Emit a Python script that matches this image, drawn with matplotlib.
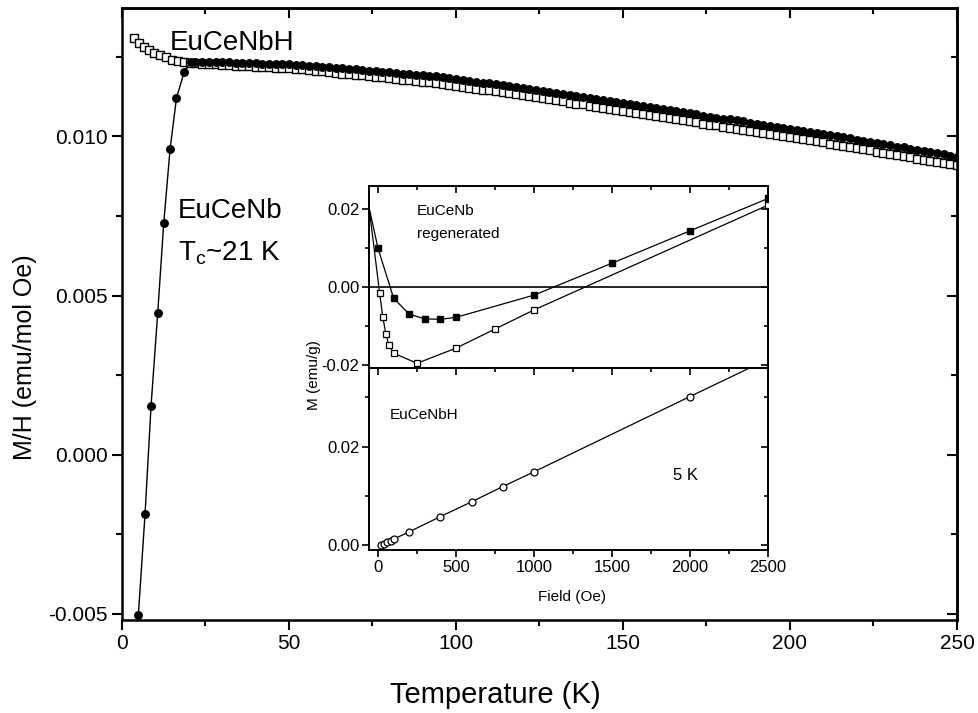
import numpy as np
import matplotlib
matplotlib.use("Agg")
import matplotlib.pyplot as plt
from matplotlib.ticker import MultipleLocator, FormatStrFormatter, NullFormatter

plt.rcParams['font.family'] = ['Liberation Sans', 'DejaVu Sans']
plt.rcParams['axes.unicode_minus'] = False
plt.rcParams['mathtext.fontset'] = 'custom'
plt.rcParams['mathtext.rm'] = 'Liberation Sans'

# ---- main panel: M/H vs T ----
# EuCeNbH (open squares)
t_nbh = [3.6, 5.1, 6.6, 8.1, 9.6, 11.3, 13.1, 14.9, 16.8, 18.6, 20.5,
         22, 24, 26, 28, 30, 32, 34, 36, 38, 40, 42, 44, 46, 48, 50,
         52, 54, 56, 58, 60, 62, 64, 66, 68, 70, 72, 74, 76, 78, 80,
         82, 84, 86, 88, 90, 92, 94, 96, 98, 100, 102, 104, 106, 108, 110,
         112, 114, 116, 118, 120, 122, 124, 126, 128, 130, 132, 134, 136, 138, 140,
         142, 144, 146, 148, 150, 152, 154, 156, 158, 160, 162, 164, 166, 168, 170,
         172, 174, 176, 178, 180, 182, 184, 186, 188, 190, 192, 194, 196, 198, 200,
         202, 204, 206, 208, 210, 212, 214, 216, 218, 220, 222, 224, 226, 228, 230,
         232, 234, 236, 238, 240, 242, 244, 246, 248, 250]
mh_nbh = [0.01308, 0.01293, 0.01281, 0.01270, 0.01262, 0.01255, 0.01250, 0.01241, 0.01237, 0.01234, 0.01231,
          0.01229, 0.01228, 0.01227, 0.01226, 0.01225, 0.01224, 0.01222, 0.01221, 0.01220, 0.01219,
          0.01218, 0.01217, 0.01216, 0.01215, 0.01214,
          0.01212, 0.01210, 0.01208, 0.01206, 0.01204, 0.01202, 0.01199, 0.01197, 0.01195, 0.01193,
          0.01191, 0.01189, 0.01187, 0.01185, 0.01183,
          0.01181, 0.01178, 0.01176, 0.01174, 0.01172, 0.01170, 0.01168, 0.01165, 0.01162, 0.01159,
          0.01156, 0.01153, 0.01150, 0.01147, 0.01144,
          0.01141, 0.01138, 0.01135, 0.01132, 0.01129, 0.01126, 0.01123, 0.01120, 0.01116, 0.01113,
          0.01110, 0.01106, 0.01103, 0.01100, 0.01096,
          0.01093, 0.01090, 0.01087, 0.01083, 0.01080, 0.01077, 0.01073, 0.01070, 0.01067, 0.01063,
          0.01060, 0.01057, 0.01054, 0.01050, 0.01047,
          0.01044, 0.01040, 0.01037, 0.01034, 0.01030, 0.01027, 0.01024, 0.01021, 0.01017, 0.01014,
          0.01011, 0.01007, 0.01004, 0.01001, 0.00997,
          0.00994, 0.00991, 0.00988, 0.00984, 0.00981, 0.00977, 0.00974, 0.00970, 0.00967, 0.00963,
          0.00959, 0.00956, 0.00952, 0.00948, 0.00945,
          0.00941, 0.00938, 0.00934, 0.00930, 0.00927, 0.00923, 0.00920, 0.00916, 0.00912, 0.00909]

# EuCeNb (filled circles)
t_nb = [4.9, 6.9, 8.7, 10.7, 12.5, 14.4, 16.3, 18.6, 20.6,
        22, 24, 26, 28, 30, 32, 34, 36, 38, 40, 42, 44, 46, 48, 50,
        52, 54, 56, 58, 60, 62, 64, 66, 68, 70, 72, 74, 76, 78, 80,
        82, 84, 86, 88, 90, 92, 94, 96, 98, 100, 102, 104, 106, 108, 110,
        112, 114, 116, 118, 120, 122, 124, 126, 128, 130, 132, 134, 136, 138, 140,
        142, 144, 146, 148, 150, 152, 154, 156, 158, 160, 162, 164, 166, 168, 170,
        172, 174, 176, 178, 180, 182, 184, 186, 188, 190, 192, 194, 196, 198, 200,
        202, 204, 206, 208, 210, 212, 214, 216, 218, 220, 222, 224, 226, 228, 230,
        232, 234, 236, 238, 240, 242, 244, 246, 248, 250]
mh_nb = [-0.00503, -0.00187, 0.00153, 0.00446, 0.00727, 0.00960, 0.01119, 0.01202, 0.01234,
         0.01232, 0.01232, 0.01232, 0.01232, 0.01232, 0.01232, 0.01230, 0.01230, 0.01229, 0.01229,
         0.01228, 0.01228, 0.01228, 0.01227, 0.01227,
         0.01225, 0.01223, 0.01222, 0.01220, 0.01219, 0.01217, 0.01214, 0.01213, 0.01211, 0.01210,
         0.01208, 0.01206, 0.01205, 0.01203, 0.01201,
         0.01199, 0.01197, 0.01195, 0.01193, 0.01192, 0.01190, 0.01188, 0.01185, 0.01182, 0.01180,
         0.01177, 0.01174, 0.01171, 0.01168, 0.01166,
         0.01163, 0.01160, 0.01157, 0.01154, 0.01152, 0.01149, 0.01146, 0.01143, 0.01139, 0.01136,
         0.01133, 0.01130, 0.01127, 0.01124, 0.01120,
         0.01117, 0.01114, 0.01111, 0.01107, 0.01104, 0.01101, 0.01098, 0.01095, 0.01092, 0.01088,
         0.01085, 0.01082, 0.01079, 0.01075, 0.01072,
         0.01069, 0.01065, 0.01062, 0.01059, 0.01055, 0.01053, 0.01050, 0.01047, 0.01043, 0.01040,
         0.01037, 0.01033, 0.01030, 0.01027, 0.01023,
         0.01020, 0.01017, 0.01014, 0.01010, 0.01007, 0.01004, 0.01001, 0.00997, 0.00994, 0.00990,
         0.00986, 0.00983, 0.00979, 0.00975, 0.00972,
         0.00968, 0.00965, 0.00961, 0.00957, 0.00954, 0.00950, 0.00947, 0.00943, 0.00939, 0.00936]

# ---- inset: M vs field at 5 K ----
# EuCeNb regenerated, filled squares (first point sits on the left edge)
h_nb_fill = [-58, 0, 100, 200, 300, 400, 500, 1000, 1500, 2000, 2500]
m_nb_fill = [0.0205, 0.0099, -0.0029, -0.0070, -0.0082, -0.0083, -0.0078, -0.0021, 0.0061, 0.0144, 0.0227]
# EuCeNb regenerated, open squares
h_nb_open = [-58, 10, 30, 50, 70, 100, 250, 500, 750, 1000, 2500]
m_nb_open = [0.0205, -0.0015, -0.0076, -0.0121, -0.0150, -0.0170, -0.0196, -0.0157, -0.0108, -0.0059, 0.0210]
# EuCeNbH, open circles
h_nbh = [20, 40, 60, 80, 100, 200, 400, 600, 800, 1000, 2000, 2500]
m_nbh = [0.0000, 0.0003, 0.0006, 0.0009, 0.0012, 0.0027, 0.0058, 0.0088, 0.0119, 0.0149, 0.0302, 0.0378]


def mirror_ticks(a, xmaj, xmin, ymaj, ymin, top=True, right=True, length=(7, 4), width=1.5):
    # top / right ticks point inward, without labels
    if top:
        sx = a.secondary_xaxis('top')
        sx.xaxis.set_major_locator(MultipleLocator(xmaj))
        sx.xaxis.set_minor_locator(MultipleLocator(xmin))
        sx.xaxis.set_major_formatter(NullFormatter())
        sx.tick_params(which='both', direction='in', width=width)
        sx.tick_params(which='major', length=length[0])
        sx.tick_params(which='minor', length=length[1])
        sx.spines['top'].set_linewidth(a.spines['top'].get_linewidth())
    if right:
        sy = a.secondary_yaxis('right')
        sy.yaxis.set_major_locator(MultipleLocator(ymaj))
        sy.yaxis.set_minor_locator(MultipleLocator(ymin))
        sy.yaxis.set_major_formatter(NullFormatter())
        sy.tick_params(which='both', direction='in', width=width)
        sy.tick_params(which='major', length=length[0])
        sy.tick_params(which='minor', length=length[1])
        sy.spines['right'].set_linewidth(a.spines['right'].get_linewidth())


fig = plt.figure(figsize=(9.79, 7.13), dpi=100)

ax = fig.add_axes([0.1246, 0.1304, 0.8529, 0.8584])
ax.plot(t_nbh, mh_nbh, ls='none', marker='s', ms=5.8, mfc='white', mec='black', mew=1.0, zorder=2)
ax.plot(t_nb, mh_nb, '-', color='black', lw=1.0, marker='o', ms=5.4, mfc='black', mec='black', zorder=3)
ax.set_xlim(0, 250)
ax.set_ylim(-0.00519, 0.01403)
ax.xaxis.set_major_locator(MultipleLocator(50))
ax.xaxis.set_minor_locator(MultipleLocator(25))
ax.yaxis.set_major_locator(MultipleLocator(0.005))
ax.yaxis.set_minor_locator(MultipleLocator(0.0025))
ax.yaxis.set_major_formatter(FormatStrFormatter('%.3f'))
for s in ax.spines.values():
    s.set_linewidth(1.8)
ax.tick_params(which='both', direction='out', width=1.5, labelsize=15)
ax.tick_params(which='major', length=7, pad=3)
ax.tick_params(which='minor', length=4)
mirror_ticks(ax, 50, 25, 0.005, 0.0025)

ax.set_xlabel('Temperature (K)', fontsize=21)
ax.xaxis.set_label_coords(0.447, -0.100)
ax.set_ylabel('M/H (emu/mol Oe)', fontsize=18)
ax.yaxis.set_label_coords(-0.102, 0.43)

ax.text(0.0575, 0.931, 'EuCeNbH', transform=ax.transAxes, fontsize=20, va='baseline')
ax.text(0.067, 0.657, 'EuCeNb', transform=ax.transAxes, fontsize=20, va='baseline')
ax.text(0.067, 0.588, r'T$_\mathregular{c}$~21 K', transform=ax.transAxes, fontsize=20, va='baseline')

# inset, two stacked panels sharing the field axis
ins_top = fig.add_axes([0.3769, 0.4839, 0.4076, 0.2552])
ins_bot = fig.add_axes([0.3769, 0.2286, 0.4076, 0.2553], sharex=ins_top)

ins_top.axhline(0, color='black', lw=1.2, zorder=1)
ins_top.plot(h_nb_fill, m_nb_fill, '-', color='black', lw=0.9, marker='s', ms=4.6,
             mfc='black', mec='black', markevery=slice(1, None), zorder=3)
ins_top.plot(h_nb_open, m_nb_open, '-', color='black', lw=0.9, marker='s', ms=4.6,
             mfc='white', mec='black', mew=0.9, markevery=slice(1, None), zorder=3)
ins_top.set_ylim(-0.0208, 0.0259)
ins_top.yaxis.set_major_locator(MultipleLocator(0.02))
ins_top.yaxis.set_minor_locator(MultipleLocator(0.01))
ins_top.yaxis.set_major_formatter(FormatStrFormatter('%.2f'))
ins_top.tick_params(axis='x', which='both', bottom=False, labelbottom=False)
ins_top.text(0.12, 0.841, 'EuCeNb', transform=ins_top.transAxes, fontsize=11, va='baseline')
ins_top.text(0.12, 0.714, 'regenerated', transform=ins_top.transAxes, fontsize=11, va='baseline')

ins_bot.plot(h_nbh, m_nbh, '-', color='black', lw=0.9, marker='o', ms=5.0,
             mfc='white', mec='black', mew=0.9, zorder=3)
ins_bot.set_xlim(-58, 2500)
ins_bot.set_ylim(-0.001, 0.036)
ins_bot.xaxis.set_major_locator(MultipleLocator(500))
ins_bot.xaxis.set_minor_locator(MultipleLocator(250))
ins_bot.yaxis.set_major_locator(MultipleLocator(0.02))
ins_bot.yaxis.set_minor_locator(MultipleLocator(0.01))
ins_bot.yaxis.set_major_formatter(FormatStrFormatter('%.2f'))
ins_bot.text(0.053, 0.72, 'EuCeNbH', transform=ins_bot.transAxes, fontsize=11, va='baseline')
ins_bot.text(0.762, 0.385, '5 K', transform=ins_bot.transAxes, fontsize=12, va='baseline')

for a in (ins_top, ins_bot):
    for s in a.spines.values():
        s.set_linewidth(1.4)
    a.tick_params(which='both', direction='out', width=1.2, labelsize=12, pad=2)
    a.tick_params(which='major', length=5)
    a.tick_params(which='minor', length=3)
mirror_ticks(ins_top, 500, 250, 0.02, 0.01, length=(5, 3), width=1.2)
mirror_ticks(ins_bot, 500, 250, 0.02, 0.01, length=(5, 3), width=1.2)

fig.text(314 / 979, 1 - 375 / 713, 'M (emu/g)', rotation=90, ha='center', va='center', fontsize=11)
fig.text(572 / 979, 1 - 590 / 713, 'Field (Oe)', ha='center', va='top', fontsize=11)

fig.savefig('out.png', dpi=100)
